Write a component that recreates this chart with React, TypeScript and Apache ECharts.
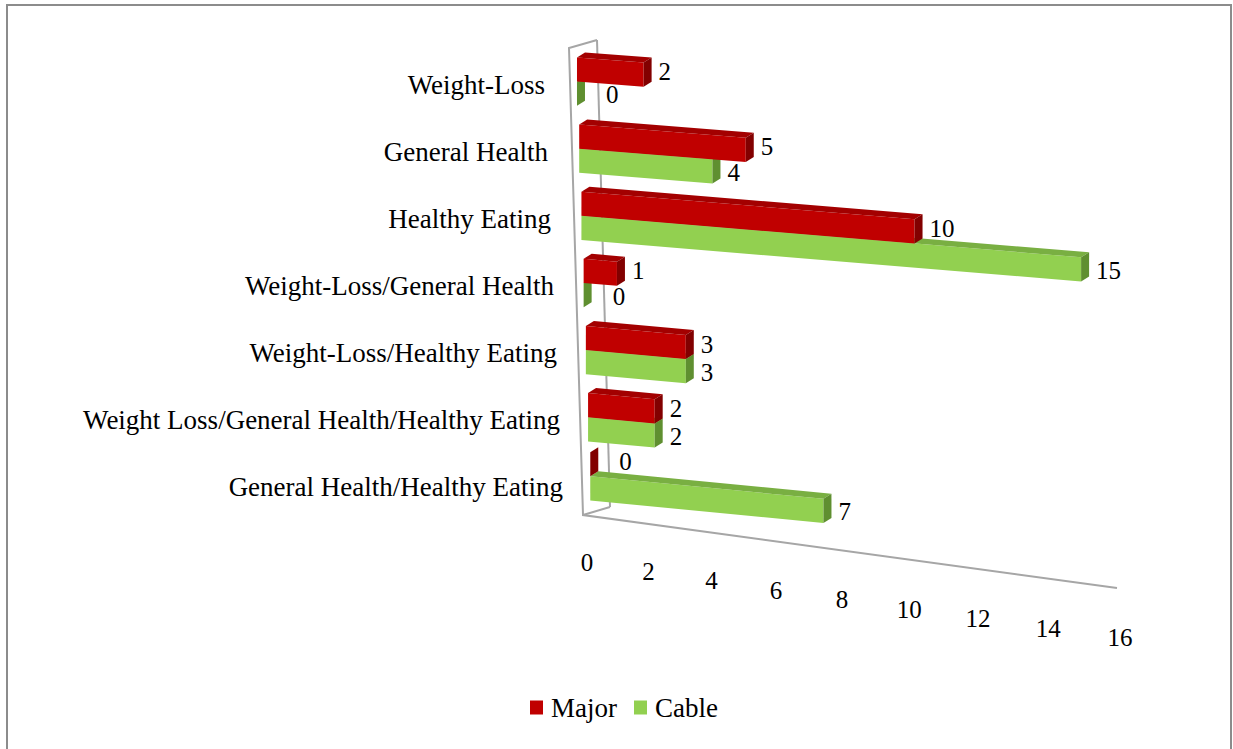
import React, { useEffect, useRef } from "react";
import * as echarts from "echarts";

const CATEGORIES = [
  "Weight-Loss",
  "General Health",
  "Healthy Eating",
  "Weight-Loss/General Health",
  "Weight-Loss/Healthy Eating",
  "Weight Loss/General Health/Healthy Eating",
  "General Health/Healthy Eating",
];
const MAJOR = [2, 5, 10, 1, 3, 2, 0];
const CABLE = [0, 4, 15, 0, 3, 2, 7];
const X_TICKS = [0, 2, 4, 6, 8, 10, 12, 14, 16];
const SERIES_NAMES = ["Major", "Cable"];

const FONT = '"Liberation Serif", "Times New Roman", serif';
const MAJOR_COLORS = { front: "#C00000", top: "#A30000", end: "#820000" };
const CABLE_COLORS = { front: "#92D050", top: "#79AF42", end: "#5F8F30" };
const DEPTH = [8, -5];
const GRID = { left: 577, top: 51, width: 533, height: 470 };
const LINE_COLOR = "#A6A6A6";

function slopeAt(y: number) {
  return 0.075 + (y - 57) * 0.00005;
}
function shiftAt(y: number) {
  return (y - 85) * 0.033;
}
// perspective lift of the lowest rows
function liftAt(y: number) {
  return Math.max(0, y - 420) * 0.12;
}

function makeBarRenderer(isMajor: boolean, colors: { front: string; top: string; end: string }) {
  return (params: any, api: any) => {
    const v = api.value(0);
    const cat = api.value(1);
    const c0 = api.coord([0, cat]);
    const c1 = api.coord([v, cat]);
    const yc = c0[1];
    const band = api.size([0, 1])[1];
    const barH = band * 0.36;
    const boundary = yc - band * 0.045 - liftAt(yc);
    const t = isMajor ? boundary - barH : boundary;
    const b = isMajor ? boundary : boundary + barH;
    const sh = shiftAt(yc);
    const xl = c0[0] + sh;
    const xr = c1[0] + sh;
    const s = slopeAt(yc);
    const P = (x: number, y: number) => [x, y + (x - xl) * s];
    const D = (p: number[]) => [p[0] + DEPTH[0], p[1] + DEPTH[1]];
    const tl = P(xl, t);
    const tr = P(xr, t);
    const br = P(xr, b);
    const bl = P(xl, b);
    const labelX = xr + DEPTH[0] + 7 + (v === 0 ? 14 : 0);
    const labelY = (tr[1] + br[1]) / 2 + (isMajor ? -3 : 1);
    return {
      type: "group",
      children: [
        { type: "polygon", shape: { points: [tl, tr, br, bl] }, style: { fill: colors.front } },
        { type: "polygon", shape: { points: [tl, tr, D(tr), D(tl)] }, style: { fill: colors.top } },
        { type: "polygon", shape: { points: [tr, D(tr), D(br), br] }, style: { fill: colors.end } },
        {
          type: "text",
          x: labelX,
          y: labelY,
          style: {
            text: String(v),
            fill: "#000",
            fontSize: 25,
            fontFamily: FONT,
            align: "left",
            verticalAlign: "middle",
          },
        },
      ],
    };
  };
}

function frameRenderer(params: any, api: any) {
  const cs = params.coordSys;
  const L = cs.x;
  const T = cs.y;
  const B = cs.y + cs.height;
  const R = cs.x + cs.width;
  const lineStyle = { stroke: LINE_COLOR, lineWidth: 2, fill: "none" };
  const children: any[] = [
    {
      type: "polyline",
      shape: { points: [[L + 20, T - 11], [L - 8, T - 3], [L + 6, B - 6], [R + 7, B + 67]] },
      style: lineStyle,
    },
    { type: "line", shape: { x1: L + 20, y1: T - 11, x2: L + 33, y2: B - 14 }, style: lineStyle },
    { type: "line", shape: { x1: L + 6, y1: B - 6, x2: L + 33, y2: B - 14 }, style: lineStyle },
  ];
  const vmax = X_TICKS[X_TICKS.length - 1];
  X_TICKS.forEach((v) => {
    const x = api.coord([v, 0])[0] + 10 - 0.18 * v * (vmax - v);
    const y = B + 41 + (api.coord([v, 0])[0] - L) * 0.1425;
    children.push({
      type: "text",
      x,
      y,
      style: {
        text: String(v),
        fill: "#000",
        fontSize: 25,
        fontFamily: FONT,
        align: "center",
        verticalAlign: "middle",
      },
    });
  });
  return { type: "group", children };
}

export default function App() {
  const ref = useRef<HTMLDivElement>(null);
  useEffect(() => {
    if (!ref.current) return;
    const chart = echarts.init(ref.current, undefined, { renderer: "svg" });
    const rich: Record<string, any> = {};
    CATEGORIES.forEach((_, i) => {
      rich["c" + i] = {
        fontSize: 27,
        fontFamily: FONT,
        color: "#000",
        padding: [0, (CATEGORIES.length - 1 - i) * 3, 0, 0],
      };
    });
    chart.setOption({
      animation: false,
      backgroundColor: "#fff",
      textStyle: { fontFamily: FONT },
      grid: { left: GRID.left, top: GRID.top, width: GRID.width, height: GRID.height, containLabel: false },
      xAxis: { type: "value", min: 0, max: 16, interval: 2, show: false },
      yAxis: {
        type: "category",
        data: CATEGORIES,
        inverse: true,
        axisLine: { show: false },
        axisTick: { show: false },
        splitLine: { show: false },
        axisLabel: {
          margin: 14,
          fontSize: 27,
          fontFamily: FONT,
          color: "#000",
          formatter: (value: string, index: number) => `{c${index}|${value}}`,
          rich,
        },
      },
      legend: {
        data: SERIES_NAMES.map((n) => ({ name: n, icon: "rect" })),
        top: 689,
        left: 525,
        itemWidth: 13,
        itemHeight: 14,
        itemGap: 17,
        formatter: "{n|{name}}",
        textStyle: {
          fontSize: 27,
          fontFamily: FONT,
          color: "#000",
          rich: {
            n: { fontSize: 27, fontFamily: FONT, color: "#000", padding: [0, 0, 0, 3] },
          },
        },
      },
      graphic: [
        {
          type: "rect",
          silent: true,
          shape: { x: 7, y: 5, width: 1224, height: 800 },
          style: { fill: "none", stroke: "#8C8C8C", lineWidth: 2 },
        },
      ],
      series: [
        {
          type: "custom",
          name: "frame",
          silent: true,
          z: 1,
          renderItem: frameRenderer,
          data: [[0, 0]],
          encode: { x: 0, y: 1 },
        },
        {
          type: "custom",
          name: SERIES_NAMES[1],
          z: 2,
          itemStyle: { color: CABLE_COLORS.front },
          renderItem: makeBarRenderer(false, CABLE_COLORS),
          data: CABLE.map((v, i) => [v, i]),
          encode: { x: 0, y: 1 },
        },
        {
          type: "custom",
          name: SERIES_NAMES[0],
          z: 3,
          itemStyle: { color: MAJOR_COLORS.front },
          renderItem: makeBarRenderer(true, MAJOR_COLORS),
          data: MAJOR.map((v, i) => [v, i]),
          encode: { x: 0, y: 1 },
        },
      ],
    });
    return () => chart.dispose();
  }, []);
  return (
    <div
      ref={ref}
      style={{ position: "fixed", left: 0, top: 0, width: 1233, height: 749, background: "#fff" }}
    />
  );
}
